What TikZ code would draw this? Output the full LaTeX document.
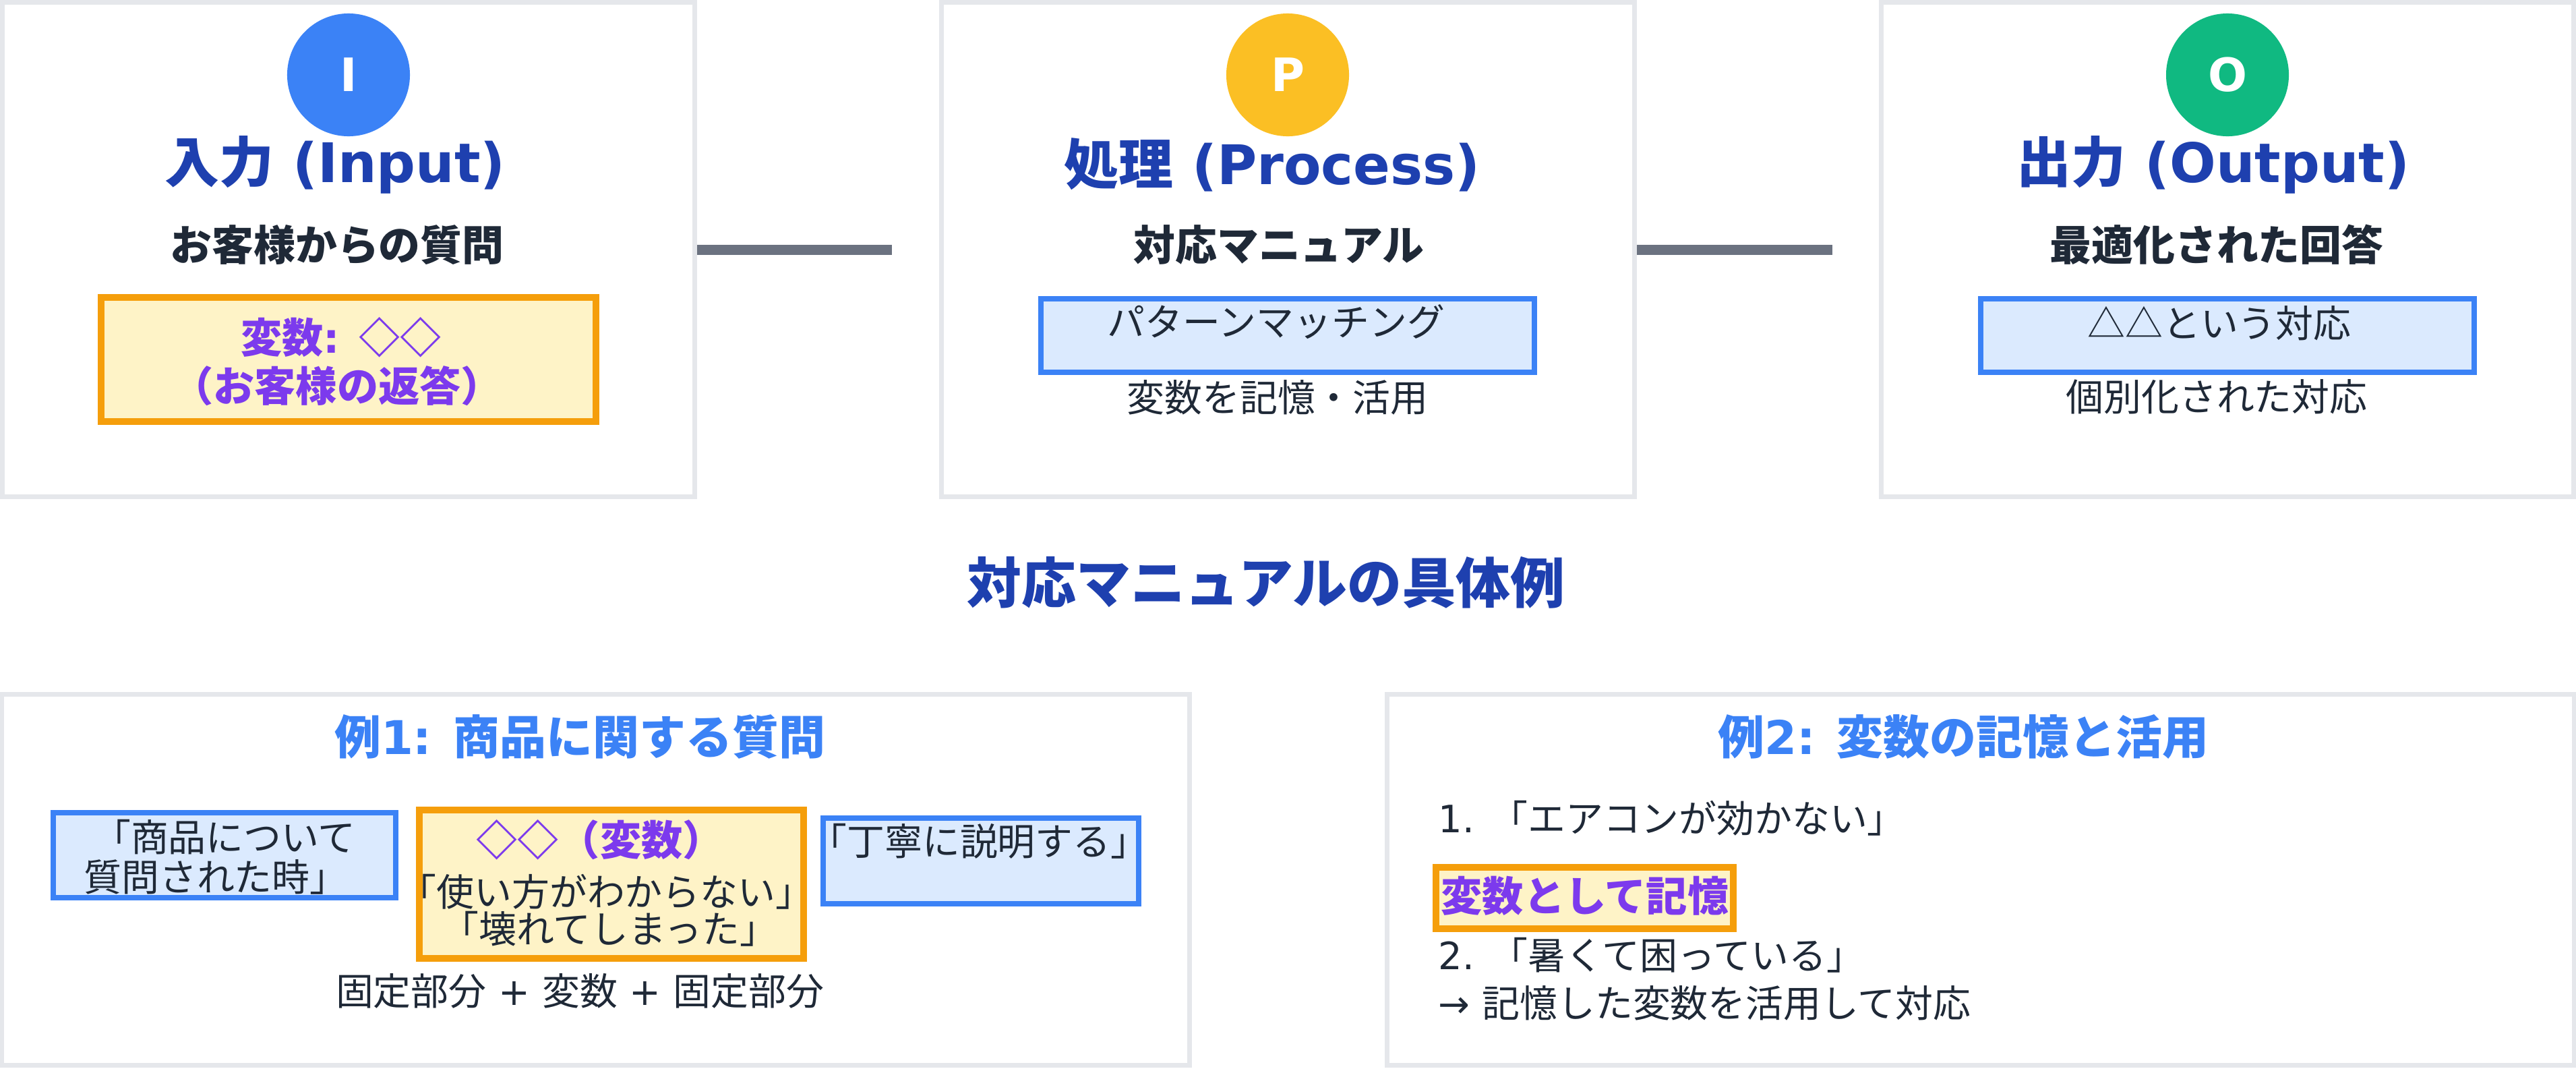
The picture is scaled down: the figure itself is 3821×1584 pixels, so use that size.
\documentclass[tikz,border=0pt]{standalone}
\usepackage{fontspec}
\setmainfont{Noto Sans CJK JP}
\newfontfamily\lat{DejaVu Sans}
\definecolor{gborder}{HTML}{E5E7EB}
\definecolor{conncol}{HTML}{6B7280}
\definecolor{cblue}{HTML}{3B82F6}
\definecolor{cyellow}{HTML}{FBBF24}
\definecolor{cgreen}{HTML}{10B981}
\definecolor{titleblue}{HTML}{1E40AF}
\definecolor{darktext}{HTML}{1F2937}
\definecolor{oborder}{HTML}{F59E0B}
\definecolor{ofill}{HTML}{FEF3C7}
\definecolor{ptext}{HTML}{7C3AED}
\definecolor{bfillc}{HTML}{DBEAFE}
\begin{document}
\begin{tikzpicture}[x=0.01cm,y=-0.01cm,
  gbox/.style={draw=gborder, line width=0.07cm, fill=white, inner sep=0pt, minimum height=7.33cm, minimum width=10.27cm},
  ebox/.style={draw=gborder, line width=0.07cm, fill=white, inner sep=0pt, minimum height=5.50cm, minimum width=17.60cm},
  obox/.style={draw=oborder, line width=0.10cm, fill=ofill, inner sep=0pt},
  bbox/.style={draw=cblue, line width=0.08cm, fill=bfillc, inner sep=0pt},
  conn/.style={draw=conncol, line width=0.15cm},
  badge/.style={circle, inner sep=0pt, minimum size=1.82cm, text=white, font=\fontsize{19.4}{23}\selectfont\bfseries\lat},
  titlef/.style={inner sep=0pt, text=titleblue, font=\fontsize{23}{28}\selectfont\bfseries},
  subf/.style={inner sep=0pt, text=darktext, font=\fontsize{17.6}{21}\selectfont\bfseries},
  normf/.style={inner sep=0pt, text=darktext, font=\fontsize{15.9}{19}\selectfont},
  exf/.style={inner sep=0pt, text=cblue, font=\fontsize{19.6}{24}\selectfont\bfseries},
  purf/.style={inner sep=0pt, text=ptext, font=\fontsize{17.4}{21}\selectfont\bfseries}
]
\useasboundingbox[fill=white] (0,0) rectangle (3821,1584);

% top boxes
\node[gbox] (b1) at (517,370) {};
\node[gbox] (b2) at (1910.5,370) {};
\node[gbox] (b3) at (3304,370) {};

% connectors
\coordinate (k1) at (1323,370);
\coordinate (k2) at (2718,370);
\draw[conn] (b1.east) -- (k1);
\draw[conn] (b2.east) -- (k2);

% badges
\node[badge, fill=cblue] (ci) at (517,111) {I};
\node[badge, fill=cyellow] (cp) at (1910,111) {P};
\node[badge, fill=cgreen] (co) at (3304,111) {O};

% titles
\node[titlef] (t1) at (497,244) {入力{\lat{} (Input)}};
\node[titlef] (t2) at (1887,244) {処理{\lat{} (Process)}};
\node[titlef] (t3) at (3283,244) {出力{\lat{} (Output)}};

% subtitles
\node[subf] (s1) at (500,363) {お客様からの質問};
\node[subf] (s2) at (1897,363) {対応マニュアル};
\node[subf] (s3) at (3288,363) {最適化された回答};

% inner boxes top
\node[obox, minimum width=7.34cm, minimum height=1.84cm] (o1) at (517,533) {};
\node[purf] (o1a) at (506,500) {変数{\lat: }◇◇};
\node[purf] (o1b) at (500,572) {（お客様の返答）};

\node[bbox, minimum width=7.32cm, minimum height=1.09cm] (p1) at (1910,497.5) {};
\node[normf] (p1t) at (1893,477) {パターンマッチング};
\node[normf] (p2t) at (1895,589) {変数を記憶・活用};

\node[bbox, minimum width=7.32cm, minimum height=1.09cm] (q1) at (3304,497.5) {};
\node[normf] (q1t) at (3292,479) {△△という対応};
\node[normf] (q2t) at (3288,588) {個別化された対応};

% heading
\node[titlef] (hd) at (1878,864) {対応マニュアルの具体例};

% bottom boxes
\node[ebox] (b4) at (883.5,1304.5) {};
\node[ebox] (b5) at (2937.5,1304.5) {};

% example 1
\node[exf] (e1t) at (860,1092) {例{\lat 1: }商品に関する質問};
\node[bbox, minimum width=5.08cm, minimum height=1.26cm] (e1a) at (333,1268) {};
\node[normf] (e1a1) at (333,1241) {「商品について};
\node[normf] (e1a2) at (320,1300) {質問された時」};
\node[obox, minimum width=5.70cm, minimum height=2.20cm] (e1b) at (907,1311) {};
\node[purf] (e1b1) at (890,1245) {◇◇（変数）};
\node[normf] (e1b2) at (899,1322) {「使い方がわからない」};
\node[normf] (e1b3) at (904,1377) {「壊れてしまった」};
\node[bbox, minimum width=4.68cm, minimum height=1.27cm] (e1c) at (1455,1276.5) {};
\node[normf] (e1c1) at (1452,1247) {「丁寧に説明する」};
\node[normf] (e1f) at (860,1469) {固定部分{\lat{} + }変数{\lat{} + }固定部分};

% example 2
\node[exf] (e2t) at (2912,1092) {例{\lat 2: }変数の記憶と活用};
\node[normf, anchor=west] (e2a) at (2133,1213) {{\lat 1. }「エアコンが効かない」};
\node[obox, minimum width=4.41cm, minimum height=0.91cm] (e2o) at (2350.5,1331.5) {};
\node[purf, anchor=west] (e2ot) at (2137,1328) {変数として記憶};
\node[normf, anchor=west] (e2b) at (2133,1416) {{\lat 2. }「暑くて困っている」};
\node[normf, anchor=west] (e2c) at (2133,1487) {{\lat → }記憶した変数を活用して対応};
\end{tikzpicture}
\end{document}
